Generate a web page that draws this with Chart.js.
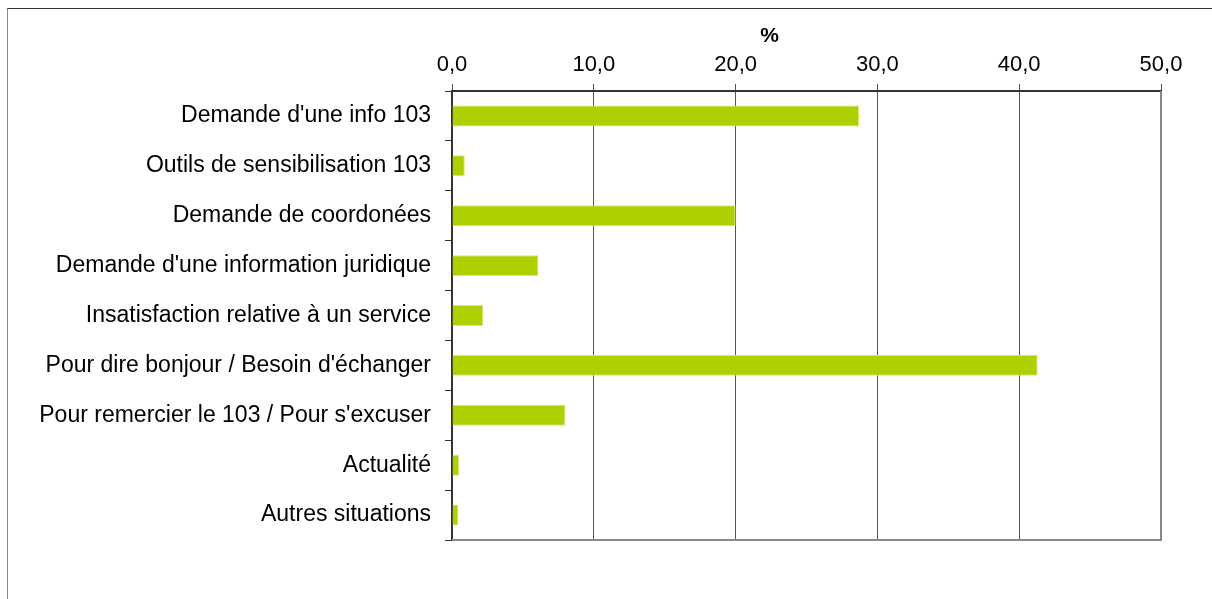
<!DOCTYPE html>
<html>
<head>
<meta charset="utf-8">
<script src="https://cdn.jsdelivr.net/npm/chart.js@4/dist/chart.umd.min.js"></script>
<style>
  html, body { margin: 0; padding: 0; background: #fff; overflow: hidden; }
  #frame {
    position: absolute; left: 7px; top: 8px; width: 1220px; height: 620px;
    border-left: 1px solid #888; border-top: 1px solid #333;
  }
  #wrap { position: absolute; left: 0; top: 0; width: 1212px; height: 599px; }
</style>
</head>
<body>
<div id="frame"></div>
<div id="wrap"><canvas id="chart"></canvas></div>
<script>
const categories = [
  "Demande d'une info 103",
  "Outils de sensibilisation 103",
  "Demande de coordonées",
  "Demande d'une information juridique",
  "Insatisfaction relative à un service",
  "Pour dire bonjour / Besoin d'échanger",
  "Pour remercier le 103 / Pour s'excuser",
  "Actualité",
  "Autres situations"
];
const values = [28.7, 0.9, 20.0, 6.1, 2.2, 41.3, 8.0, 0.5, 0.45];
const xTicks = [0, 10, 20, 30, 40, 50];
const axisTitle = '%';

const FONT = 'Liberation Sans, Arial, sans-serif';

const titlePlugin = {
  id: 'pctTitle',
  afterDraw(chart) {
    const { ctx, scales } = chart;
    ctx.save();
    ctx.font = 'bold 21px ' + FONT;
    ctx.fillStyle = '#000';
    ctx.textAlign = 'center';
    ctx.textBaseline = 'middle';
    ctx.fillText(axisTitle, scales.x.getPixelForValue(22.4), 36);
    ctx.restore();
  }
};

new Chart(document.getElementById('chart'), {
  type: 'bar',
  data: {
    labels: categories,
    datasets: [{
      data: values,
      backgroundColor: '#aecf00',
      borderColor: '#d4ea6a',
      borderWidth: 1,
      borderSkipped: 'start',
      barPercentage: 0.42,
      categoryPercentage: 1.0
    }]
  },
  options: {
    indexAxis: 'y',
    responsive: true,
    maintainAspectRatio: false,
    animation: false,
    layout: { padding: { left: 0, top: 0, right: 51, bottom: 59 } },
    plugins: { legend: { display: false }, tooltip: { enabled: false } },
    scales: {
      x: {
        position: 'top',
        min: 0, max: 50,
        afterBuildTicks(scale) { scale.ticks = xTicks.map(v => ({ value: v })); },
        afterFit(scale) { scale.height = 91; },
        ticks: {
          color: '#000',
          font: { family: FONT, size: 22 },
          padding: 6,
          callback: v => v.toFixed(1).replace('.', ',')
        },
        grid: { color: '#555', lineWidth: 1, tickLength: 7, drawTicks: true },
        border: { color: '#333', width: 2 }
      },
      y: {
        afterFit(scale) { scale.width = 452; },
        ticks: {
          color: '#000',
          font: { family: FONT, size: 23 },
          padding: 14
        },
        grid: { display: true, offset: true, drawOnChartArea: false, color: '#333', tickLength: 7 },
        border: { color: '#333', width: 2 }
      }
    }
  },
  plugins: [titlePlugin, {
    id: 'plotFrame',
    afterDraw(chart) {
      const { ctx, chartArea: a } = chart;
      ctx.save();
      ctx.strokeStyle = '#888';
      ctx.lineWidth = 2;
      ctx.beginPath();
      ctx.moveTo(a.left, a.bottom);
      ctx.lineTo(a.right, a.bottom);
      ctx.lineTo(a.right, a.top);
      ctx.stroke();
      ctx.restore();
    }
  }]
});
</script>
</body>
</html>
